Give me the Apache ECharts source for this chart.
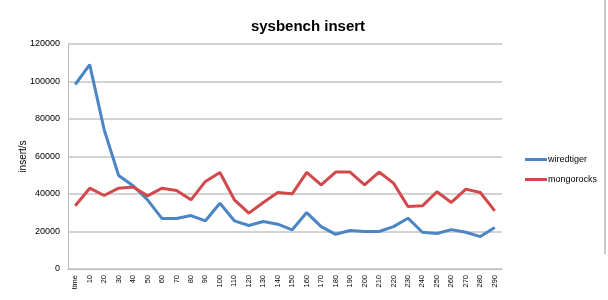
<!DOCTYPE html>
<html>
<head>
<meta charset="utf-8">
<script src="https://cdn.jsdelivr.net/npm/echarts@6/dist/echarts.min.js"></script>
<style>html,body{margin:0;padding:0;background:#fff;}#c{width:608px;height:300px;}</style>
</head>
<body>
<div id="c"></div>
<script>
var categories = ['time','10','20','30','40','50','60','70','80','90','100','110','120','130','140','150','160','170','180','190','200','210','220','230','240','250','260','270','280','290'];
var wiredtiger = [98400,109000,74300,49900,44400,36900,26900,26900,28500,25700,35100,25700,23200,25300,23900,20900,30100,22600,18500,20500,20000,20000,22600,27100,19600,18900,21000,19600,17300,22100];
var mongorocks = [33700,43100,39200,43100,43700,39000,43100,41900,36900,46700,51500,36900,29800,35500,40800,40100,51500,44900,51700,51700,44900,51700,45800,33300,33700,41200,35500,42600,40800,31000];
var yTicks = [0,20000,40000,60000,80000,100000,120000];

var chart = echarts.init(document.getElementById('c'), null, {renderer:'canvas'});
chart.setOption({
  animation:false,
  backgroundColor:'#fff',
  title:{text:'sysbench insert', left:303, top:14, textAlign:'center',
    textStyle:{fontFamily:'Liberation Sans', fontWeight:'bold', fontSize:15, color:'#000'}},
  grid:{left:68, right:106, top:44, bottom:31, containLabel:false},
  legend:{orient:'vertical', left:520, top:150, itemWidth:22, itemHeight:3, itemGap:11, icon:'rect',
    textStyle:{fontFamily:'Liberation Sans', fontSize:9, color:'#000', padding:[0,0,0,-4]},
    data:['wiredtiger','mongorocks']},
  xAxis:{type:'category', data:categories, boundaryGap:true,
    axisLine:{lineStyle:{color:'#bbb', width:1}}, axisTick:{show:false},
    axisLabel:{rotate:90, interval:0, fontFamily:'Liberation Sans', fontSize:7.5, color:'#000', margin:6}},
  yAxis:{type:'value', min:0, max:120000, interval:20000,
    name:'insert/s', nameLocation:'middle', nameGap:40, nameRotate:90, nameMoveOverlap:false,
    nameTextStyle:{fontFamily:'Liberation Sans', fontSize:10, color:'#000'},
    axisLine:{show:true, lineStyle:{color:'#bbb'}}, axisTick:{show:false},
    axisLabel:{fontFamily:'Liberation Sans', fontSize:9, color:'#000', margin:8,
      formatter:function(v){return yTicks.indexOf(v)>=0? String(v):'';}},
    splitLine:{lineStyle:{color:'#c4c4c4', width:1.5}}},
  series:[
    {name:'wiredtiger', type:'line', data:wiredtiger, showSymbol:false, symbol:'none',
      lineStyle:{color:'#4a86c5', width:3}, itemStyle:{color:'#4a86c5'}},
    {name:'mongorocks', type:'line', data:mongorocks, showSymbol:false, symbol:'none',
      lineStyle:{color:'#d2484b', width:3}, itemStyle:{color:'#d2484b'}}
  ],
  graphic:[{type:'line', shape:{x1:605, y1:0, x2:605, y2:254}, style:{stroke:'#c8c8c8', lineWidth:2}}]
});
</script>
</body>
</html>
